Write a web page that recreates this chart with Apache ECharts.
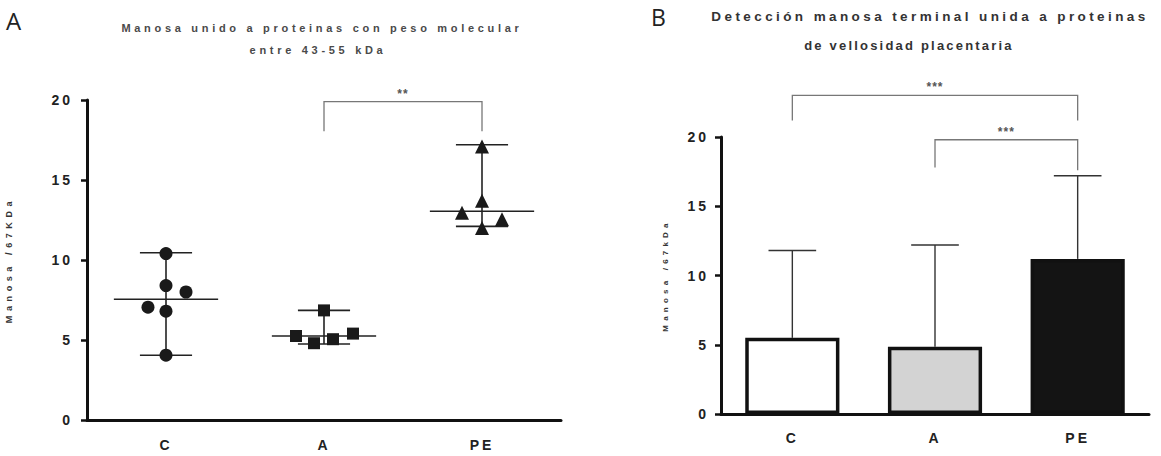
<!DOCTYPE html>
<html><head><meta charset="utf-8">
<style>
html,body{margin:0;padding:0;background:#fff;}
#chart{width:1161px;height:456px;}
#chart text[style*="11px"]{letter-spacing:3.7px;}
#chart text[style*="13px"]{letter-spacing:2.2px;}
#chart text[style*="13.5px"]{letter-spacing:3.4px;}
#chart text[style*="14px"]{letter-spacing:3px;}
#chart text[style*="9px"]{letter-spacing:4.6px;}
#chart text[style*="8px"]{letter-spacing:4.2px;}
#chart text[style*="12px"]{letter-spacing:1px;}
</style>
<script src="https://cdn.jsdelivr.net/npm/echarts@6/dist/echarts.min.js"></script>
</head><body><div id="chart"></div>
<script>
// ---------- data ----------
const categories = ['C', 'A', 'PE'];
// Panel A : individual points (jitter = horizontal spread of the dots, px)
const valuesC  = [10.4, 8.4, 8.0, 7.05, 6.8, 4.05];
const jitterC  = [0, 0, 20, -18, 0, 0];
const valuesA  = [6.85, 5.25, 4.8, 5.05, 5.4];
const jitterA  = [0, -28, -10, 9, 29];
const valuesPE = [17.1, 13.7, 12.95, 12.55, 12.0];
const jitterPE = [0, 0, -20, 20, 0];
const mediansA = [7.55, 5.25, 13.05];
const minsA    = [4.05, 4.75, 12.1];
const maxsA    = [10.45, 6.85, 17.2];
// Panel B : bars with upper error bars
const meansB  = [5.5, 4.85, 11.2];
const errTopB = [11.8, 12.2, 17.2];
// significance brackets: [fromCat, toCat, yTop, yLegFrom, yLegTo]
const sigA = [[1, 2, 19.9, 18.05, 18.05]];
const sigALabels = ['**'];
const sigB = [[0, 2, 23.0, 21.2, 21.2], [1, 2, 19.8, 17.8, 17.6]];
const sigBLabels = ['***', '***'];

// ---------- style ----------
const FONT = '"Liberation Sans", Arial, sans-serif';
const barColorsB = ['#ffffff', '#d3d3d3', '#141414'];
const symbols = ['circle', 'rect', 'triangle'];
const symbolSizes = [13, 12, 14];

function axisX(gridIndex, margin) {
  return {
    type: 'category', gridIndex, data: categories,
    axisLine: {lineStyle: {color: '#111', width: 3}},
    axisTick: {alignWithLabel: true, length: 6, lineStyle: {color: '#111', width: 2.5}},
    axisLabel: {color: '#222', fontFamily: FONT, fontWeight: 'bold', fontSize: 14, margin},
    splitLine: {show: false}
  };
}
function axisY(gridIndex, name, nameGap, nameSize, margin) {
  return {
    type: 'value', gridIndex, min: 0, max: 20, interval: 5,
    name, nameLocation: 'middle', nameRotate: 90, nameGap,
    nameTextStyle: {color: '#333', fontFamily: FONT, fontWeight: 'bold', fontSize: nameSize},
    axisLine: {show: true, lineStyle: {color: '#111', width: 3}},
    axisTick: {show: true, length: 6, lineStyle: {color: '#111', width: 2.5}},
    axisLabel: {color: '#222', fontFamily: FONT, fontWeight: 'bold', fontSize: 14, margin},
    splitLine: {show: false}
  };
}

function scatterSeries(vals, jit, ci) {
  return {
    type: 'scatter', xAxisIndex: 0, yAxisIndex: 0, z: 5,
    symbol: symbols[ci], symbolSize: symbolSizes[ci],
    itemStyle: {color: '#1a1a1a', opacity: 1},
    data: vals.map((v, i) => ({value: [ci, v], symbolOffset: [jit[i], 0]}))
  };
}

function bracketSeries(xi, yi, rows, labels) {
  return {
    type: 'custom', xAxisIndex: xi, yAxisIndex: yi, clip: false, z: 3,
    encode: {x: 0, y: 2},
    data: rows,
    renderItem: function (params, api) {
      const f = api.value(0), t = api.value(1);
      const top1 = api.coord([f, api.value(2)]);
      const top2 = api.coord([t, api.value(2)]);
      const legF = api.coord([f, api.value(3)]);
      const legT = api.coord([t, api.value(4)]);
      return {type: 'group', children: [
        {type: 'polyline', shape: {points: [[legF[0], legF[1]], top1, top2, [legT[0], legT[1]]]},
         style: {stroke: '#777', lineWidth: 1.3, fill: null}},
        {type: 'text', style: {x: (top1[0] + top2[0]) / 2, y: top1[1] - 8, text: labels[params.dataIndex],
          textAlign: 'center', textVerticalAlign: 'middle', fill: '#555',
          font: 'bold 12px ' + FONT}}
      ]};
    }
  };
}

const option = {
  animation: false,
  backgroundColor: '#fff',
  grid: [
    {left: 87, top: 100, width: 474, height: 320},
    {left: 721, top: 137, width: 428, height: 277}
  ],
  xAxis: [axisX(0, 18), axisX(1, 17)],
  yAxis: [axisY(0, 'Manosa /67KDa', 74, 9, 14), axisY(1, 'Manosa /67kDa', 52, 8, 12)],
  graphic: [
    {type: 'text', left: 6, top: 8, style: {text: 'A', fill: '#222', font: '24px "Open Sans", sans-serif'}},
    {type: 'text', left: 651, top: 5, style: {text: 'B', fill: '#222', font: '23px "Open Sans", sans-serif'}},
    {type: 'text', x: 322, y: 28, style: {text: 'Manosa unido a proteinas con peso molecular', textAlign: 'center', textVerticalAlign: 'middle', fill: '#4a4a4a', font: 'bold 11px ' + FONT}},
    {type: 'text', x: 318, y: 50, style: {text: 'entre 43-55 kDa', textAlign: 'center', textVerticalAlign: 'middle', fill: '#4a4a4a', font: 'bold 11px ' + FONT}},
    {type: 'text', x: 930, y: 16, style: {text: 'Detección manosa terminal unida a proteinas', textAlign: 'center', textVerticalAlign: 'middle', fill: '#333', font: 'bold 13.5px ' + FONT}},
    {type: 'text', x: 909, y: 45, style: {text: 'de vellosidad placentaria', textAlign: 'center', textVerticalAlign: 'middle', fill: '#333', font: 'bold 13px ' + FONT}}
  ],
  series: [
    // Panel A: median + range lines
    {
      type: 'custom', xAxisIndex: 0, yAxisIndex: 0, z: 4,
      encode: {x: 0, y: 1},
      data: categories.map((c, i) => [i, mediansA[i], minsA[i], maxsA[i]]),
      renderItem: function (params, api) {
        const i = api.value(0);
        const m = api.coord([i, api.value(1)]);
        const lo = api.coord([i, api.value(2)]);
        const hi = api.coord([i, api.value(3)]);
        const band = api.size([1, 0])[0];
        const mh = band * 0.33, rh = band * 0.165;
        const st = {stroke: '#222', lineWidth: 1.6};
        return {type: 'group', children: [
          {type: 'line', shape: {x1: m[0] - mh, y1: m[1], x2: m[0] + mh, y2: m[1]}, style: st},
          {type: 'line', shape: {x1: lo[0] - rh, y1: lo[1], x2: lo[0] + rh, y2: lo[1]}, style: st},
          {type: 'line', shape: {x1: hi[0] - rh, y1: hi[1], x2: hi[0] + rh, y2: hi[1]}, style: st},
          {type: 'line', shape: {x1: lo[0], y1: lo[1], x2: hi[0], y2: hi[1]}, style: st}
        ]};
      }
    },
    scatterSeries(valuesC, jitterC, 0),
    scatterSeries(valuesA, jitterA, 1),
    scatterSeries(valuesPE, jitterPE, 2),
    bracketSeries(0, 0, sigA, sigALabels),
    // Panel B: error bars
    {
      type: 'custom', xAxisIndex: 1, yAxisIndex: 1, z: 1,
      encode: {x: 0, y: 2},
      data: categories.map((c, i) => [i, meansB[i], errTopB[i]]),
      renderItem: function (params, api) {
        const i = api.value(0);
        const b = api.coord([i, api.value(1)]);
        const t = api.coord([i, api.value(2)]);
        const band = api.size([1, 0])[0];
        const ch = band * 0.167;
        const st = {stroke: '#333', lineWidth: 1.4};
        return {type: 'group', children: [
          {type: 'line', shape: {x1: b[0], y1: b[1], x2: t[0], y2: t[1]}, style: st},
          {type: 'line', shape: {x1: t[0] - ch, y1: t[1], x2: t[0] + ch, y2: t[1]}, style: st}
        ]};
      }
    },
    {
      type: 'bar', xAxisIndex: 1, yAxisIndex: 1, z: 2, barWidth: '66%',
      data: meansB.map((v, i) => ({value: v, itemStyle: {color: barColorsB[i], borderColor: '#111', borderWidth: 3.5}}))
    },
    bracketSeries(1, 1, sigB, sigBLabels)
  ]
};

const chart = echarts.init(document.getElementById('chart'), null, {renderer: 'svg'});
chart.setOption(option);
</script>
</body></html>
